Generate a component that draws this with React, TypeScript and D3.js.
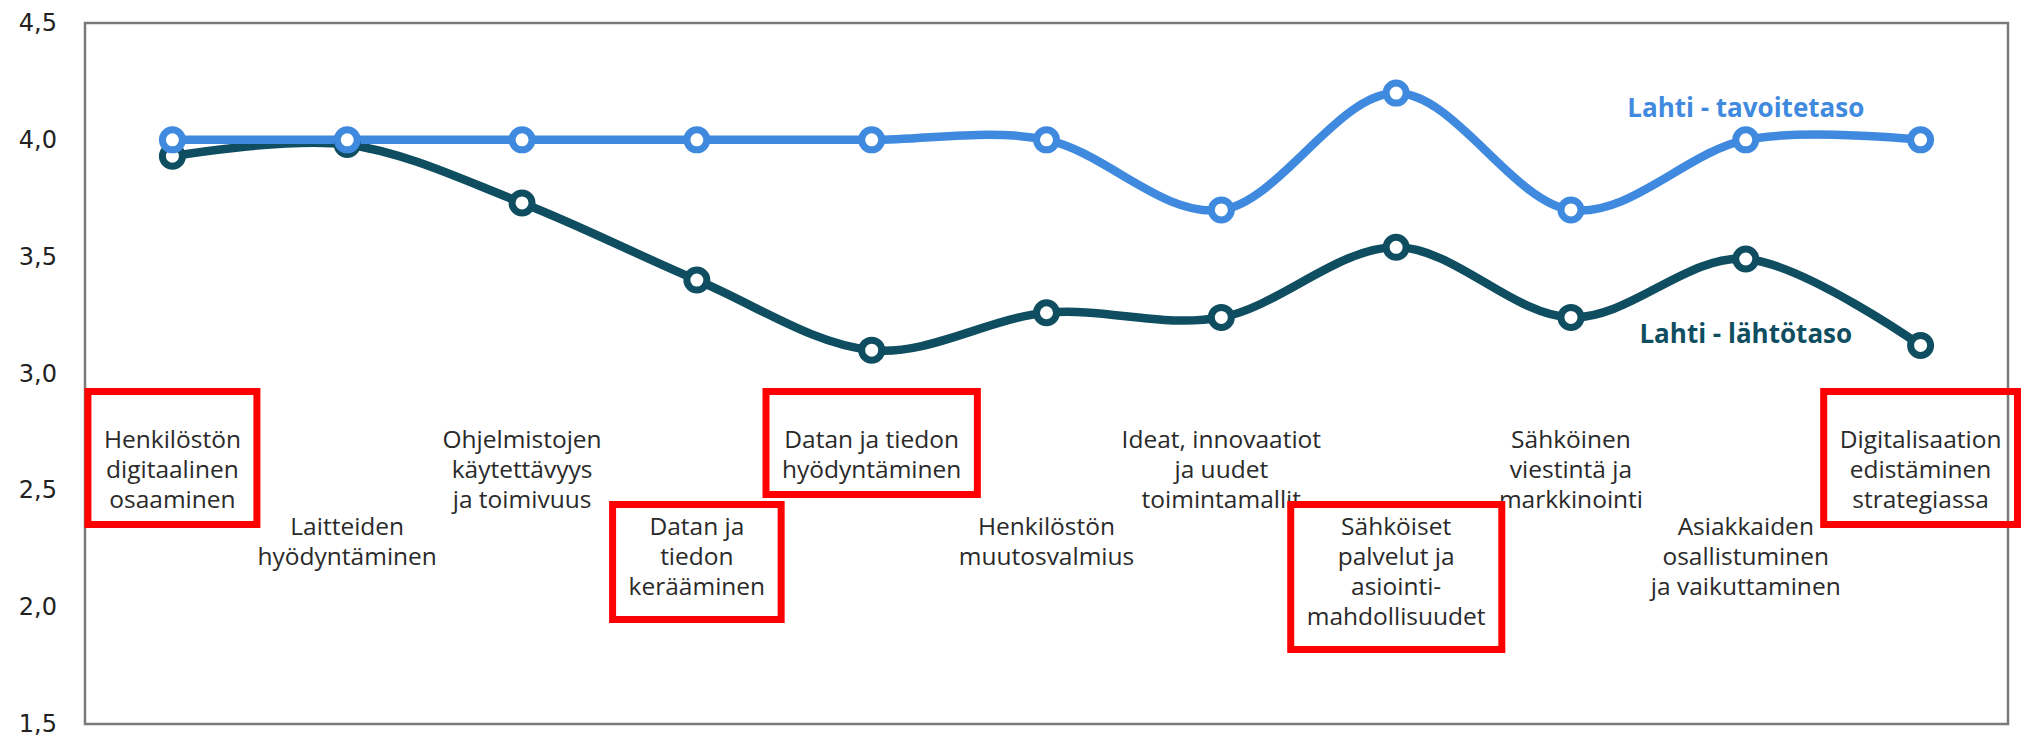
import React, { useEffect, useRef } from 'react';
import * as d3 from 'd3';

// categories (line breaks as in the picture)
const categories: string[][] = [
  ['Henkilöstön', 'digitaalinen', 'osaaminen'],
  ['Laitteiden', 'hyödyntäminen'],
  ['Ohjelmistojen', 'käytettävyys', 'ja toimivuus'],
  ['Datan ja', 'tiedon', 'kerääminen'],
  ['Datan ja tiedon', 'hyödyntäminen'],
  ['Henkilöstön', 'muutosvalmius'],
  ['Ideat, innovaatiot', 'ja uudet', 'toimintamallit'],
  ['Sähköiset', 'palvelut ja', 'asiointi-', 'mahdollisuudet'],
  ['Sähköinen', 'viestintä ja', 'markkinointi'],
  ['Asiakkaiden', 'osallistuminen', 'ja vaikuttaminen'],
  ['Digitalisaation', 'edistäminen', 'strategiassa'],
];

const tavoitetaso = [4.0, 4.0, 4.0, 4.0, 4.0, 4.0, 3.7, 4.2, 3.7, 4.0, 4.0];
const lahtotaso = [3.93, 3.98, 3.73, 3.4, 3.1, 3.26, 3.24, 3.54, 3.24, 3.49, 3.12];

const yTicks = [1.5, 2.0, 2.5, 3.0, 3.5, 4.0, 4.5];

// labels framed with a red box
const highlighted = [0, 3, 4, 7, 10];

const series = [
  { name: 'Lahti - tavoitetaso', values: tavoitetaso, color: '#3f8ade', labelAt: 9, labelValue: 4.14 },
  { name: 'Lahti - lähtötaso', values: lahtotaso, color: '#0f4e60', labelAt: 9, labelValue: 3.175 },
];

const W = 2040;
const H = 739;

const App = () => {
  const svgRef = useRef<SVGSVGElement>(null);

  useEffect(() => {
    const svg = d3.select(svgRef.current);
    svg.selectAll('*').remove();

    const left = 85, right = 2008, top = 23, bottom = 724;

    const x = d3.scalePoint<number>()
      .domain(d3.range(categories.length))
      .range([left, right])
      .padding(0.5);

    const y = d3.scaleLinear().domain([1.5, 4.5]).range([bottom, top]);

    // frame
    svg.append('rect')
      .attr('x', left).attr('y', top)
      .attr('width', right - left).attr('height', bottom - top)
      .style('fill', 'none')
      .style('stroke', '#7a7a7a')
      .style('stroke-width', 2.5);

    // y labels
    svg.append('g')
      .selectAll('text')
      .data(yTicks)
      .enter()
      .append('text')
      .attr('x', 57)
      .attr('y', d => y(d))
      .attr('text-anchor', 'end')
      .attr('dominant-baseline', 'central')
      .text(d => d3.format('.1f')(d).replace('.', ','))
      .style('font-family', '"DejaVu Sans", sans-serif')
      .style('font-size', '24px')
      .style('fill', '#222');

    // category labels, alternating between two rows
    const lineH = 30;
    const labelGroups = svg.append('g')
      .selectAll('g')
      .data(categories)
      .enter()
      .append('g')
      .attr('class', 'cat');

    labelGroups.each(function (lines, i) {
      const g = d3.select(this);
      const y0 = i % 2 === 0 ? 438 : 525;
      g.selectAll('text')
        .data(lines)
        .enter()
        .append('text')
        .attr('x', x(i)!)
        .attr('y', (_, k) => y0 + k * lineH)
        .attr('text-anchor', 'middle')
        .attr('dominant-baseline', 'central')
        .text(d => d)
        .style('font-family', '"Open Sans", sans-serif')
        .style('font-size', '24.5px')
        .style('fill', '#2a2a2a');
    });

    // lines
    const line = d3.line<number>()
      .x((_, i) => x(i)!)
      .y(d => y(d))
      .curve(d3.curveCatmullRom.alpha(0));

    // dark series first, light blue on top
    [...series].reverse().forEach(s => {
      svg.append('path')
        .datum(s.values)
        .attr('d', line)
        .style('fill', 'none')
        .style('stroke', s.color)
        .style('stroke-width', 8.5)
        .style('stroke-linecap', 'round');
    });

    [...series].reverse().forEach(s => {
      svg.append('g')
        .selectAll('circle')
        .data(s.values)
        .enter()
        .append('circle')
        .attr('cx', (_, i) => x(i)!)
        .attr('cy', d => y(d))
        .attr('r', 10)
        .style('fill', '#fff')
        .style('stroke', s.color)
        .style('stroke-width', 7);
    });

    // series name labels
    series.forEach(s => {
      svg.append('text')
        .attr('x', x(s.labelAt)!)
        .attr('y', y(s.labelValue))
        .attr('text-anchor', 'middle')
        .attr('dominant-baseline', 'central')
        .text(s.name)
        .style('font-family', '"Open Sans", sans-serif')
        .style('font-weight', 'bold')
        .style('font-size', '26px')
        .style('fill', s.color);
    });

    // red boxes around highlighted labels (upper row boxes have more room on top)
    labelGroups.each(function (_, i) {
      if (!highlighted.includes(i)) return;
      const b = (this as SVGGElement).getBBox();
      const padTop = i % 2 === 0 ? 30 : 4;
      const padBottom = i % 2 === 0 ? 10 : 18;
      svg.append('rect')
        .attr('x', b.x - 16)
        .attr('y', b.y - padTop)
        .attr('width', b.width + 32)
        .attr('height', b.height + padTop + padBottom)
        .style('fill', 'none')
        .style('stroke', '#ff0000')
        .style('stroke-width', 7);
    });
  }, []);

  return (
    <svg
      ref={svgRef}
      width={W}
      height={H}
      style={{ position: 'absolute', left: 0, top: 0, background: '#fff' }}
    />
  );
};

export default App;
